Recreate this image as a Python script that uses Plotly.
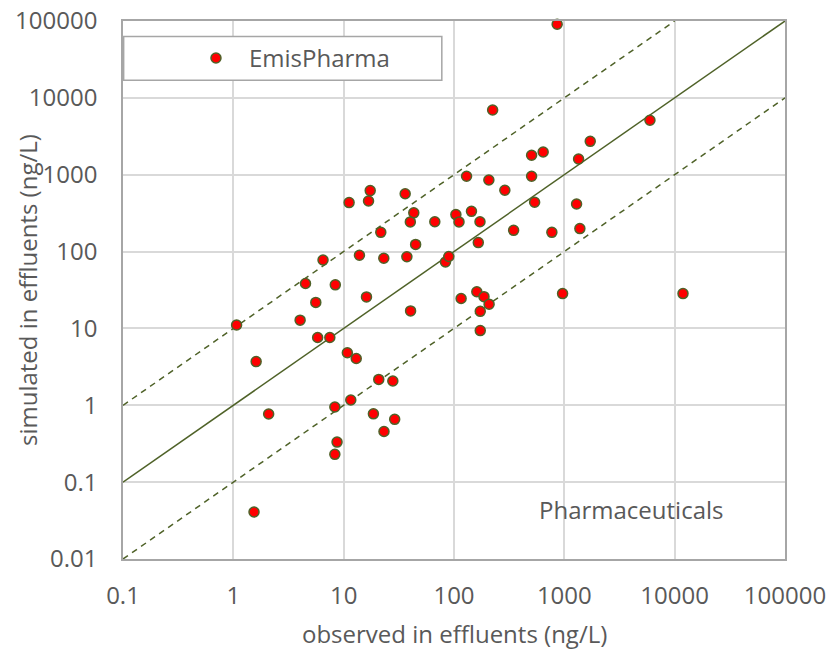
import plotly.graph_objects as go

observed = [11.2, 17.4, 16.8, 36.1, 43.2, 40.2, 67.0, 21.7, 44.9, 6.5,
            13.9, 23.1, 37.4, 83.7, 89.7, 4.51, 8.4, 5.59, 16.1, 861,
            224, 5970, 1717, 505, 643, 1346, 130, 207, 505, 289,
            538, 1291, 104, 144, 111, 172, 347, 771, 1383, 166,
            116, 161, 187, 964, 11900, 40.4, 208, 173, 173, 1.07,
            4.03, 5.81, 7.49, 1.61, 10.8, 13.0, 20.8, 27.9, 11.6, 8.32,
            2.09, 18.6, 29.0, 23.2, 8.71, 8.32, 1.54]
simulated = [434, 621, 455, 565, 319, 243, 244, 178, 124, 77.7,
             89.5, 81.8, 85.6, 73.2, 86.3, 38.4, 36.9, 21.8, 25.7, 90600,
             6950, 5110, 2720, 1790, 1975, 1602, 954, 854, 954, 627,
             438, 416, 303, 334, 243, 244, 189, 178, 199, 131,
             24.5, 30.0, 25.9, 28.4, 28.4, 16.9, 20.7, 16.7, 9.37, 11.1,
             12.8, 7.62, 7.62, 3.70, 4.82, 4.06, 2.17, 2.07, 1.17, 0.95,
             0.77, 0.774, 0.657, 0.456, 0.332, 0.230, 0.0409]

line_x = [0.1, 100000]
line_y = [0.1, 100000]
upper_x = [0.1, 10000]
upper_y = [1, 100000]
lower_x = [0.1, 100000]
lower_y = [0.01, 10000]

tick_vals = [0.01, 0.1, 1, 10, 100, 1000, 10000, 100000]
tick_text = ["0.01", "0.1", "1", "10", "100", "1000", "10000", "100000"]

series_name = "EmisPharma"
panel_label = "Pharmaceuticals"
x_title = "observed in effluents (ng/L)"
y_title = "simulated in effluents (ng/L)"

olive = "#4f6228"
text_col = "#595959"
font_family = "Open Sans"
fs = 24

fig = go.Figure()
fig.add_trace(go.Scatter(x=line_x, y=line_y, mode="lines",
                         line=dict(color=olive, width=1.5), showlegend=False, hoverinfo="skip"))
fig.add_trace(go.Scatter(x=upper_x, y=upper_y, mode="lines",
                         line=dict(color=olive, width=1.5, dash="6px,5px"), showlegend=False, hoverinfo="skip"))
fig.add_trace(go.Scatter(x=lower_x, y=lower_y, mode="lines",
                         line=dict(color=olive, width=1.5, dash="6px,5px"), showlegend=False, hoverinfo="skip"))
fig.add_trace(go.Scatter(x=observed, y=simulated, mode="markers", name=series_name,
                         cliponaxis=False,
                         marker=dict(color="#ff0000", size=10, line=dict(color=olive, width=1.5))))

axis_common = dict(
    type="log", automargin=False,
    showgrid=True, gridcolor="#d9d9d9", gridwidth=1.5,
    showline=True, linecolor="#a6a6a6", linewidth=1.5, mirror=True,
    ticks="", zeroline=False, ticklabeloverflow="allow",
    tickfont=dict(family=font_family, size=fs, color=text_col),
)

fig.update_xaxes(range=[-1, 5], tickvals=tick_vals[1:], ticktext=tick_text[1:],
                 ticklabelstandoff=14, **axis_common)
fig.update_yaxes(range=[-2, 5], tickvals=tick_vals, ticktext=tick_text,
                 ticklabelstandoff=19, **axis_common)

fig.add_shape(type="rect", xref="paper", yref="paper", x0=0.001, x1=0.4816, y0=0.8899, y1=0.9712,
              line=dict(color="#a6a6a6", width=1.5), fillcolor="white", layer="above")

fig.add_annotation(text=panel_label, xref="paper", yref="paper", x=0.7677, y=0.0918,
                   xanchor="center", yanchor="middle",
                   showarrow=False, font=dict(family=font_family, size=fs, color=text_col))
fig.add_annotation(text=x_title, xref="paper", yref="paper", x=0.5, y=-0.139,
                   xanchor="center", yanchor="middle",
                   showarrow=False, font=dict(family=font_family, size=fs, color=text_col))
fig.add_annotation(text=y_title, xref="paper", yref="paper", x=-0.145, y=0.5,
                   xanchor="center", yanchor="middle", textangle=-90,
                   showarrow=False, font=dict(family=font_family, size=fs, color=text_col))

fig.update_layout(
    width=831, height=650,
    margin=dict(l=123, r=46, t=21, b=91),
    paper_bgcolor="white", plot_bgcolor="white",
    showlegend=True,
    legend=dict(x=0.0906, y=0.9305, xanchor="left", yanchor="middle",
                bgcolor="rgba(0,0,0,0)", borderwidth=0, itemwidth=56,
                font=dict(family=font_family, size=fs, color=text_col)),
)

# remove the browser's default 8px body margin so the 831x650 figure fills the window
fig.write_html("out.html", config={"displayModeBar": False},
               post_script="document.body.style.margin='0';")
